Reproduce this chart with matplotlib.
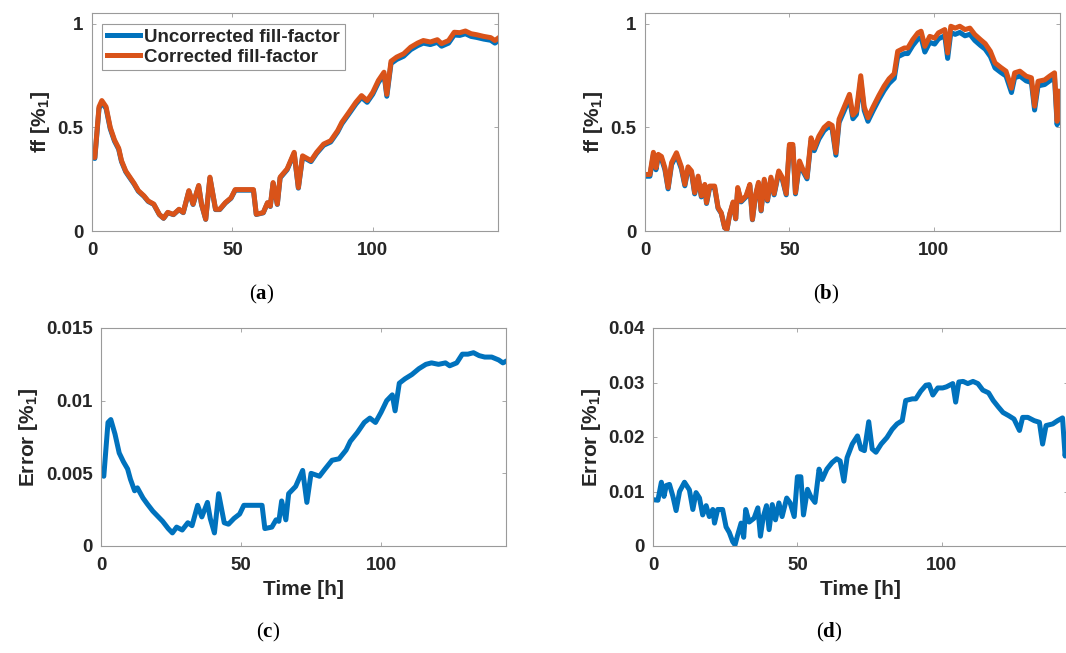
import matplotlib
matplotlib.use("Agg")
import matplotlib.pyplot as plt
import numpy as np

plt.rcParams['font.family'] = ['Liberation Sans', 'DejaVu Sans']
plt.rcParams['mathtext.fontset'] = 'custom'
plt.rcParams['mathtext.rm'] = 'Liberation Serif'
plt.rcParams['mathtext.bf'] = 'Liberation Serif:bold'
plt.rcParams['mathtext.sf'] = 'Liberation Sans:bold'

# ---------------- data: site 1 (panels a, c) ----------------
time_1 = [0, 1, 2.5, 3.5, 5, 6.5, 8, 9.5, 10.5, 12, 13, 15, 16.5, 18.5, 20, 22, 24, 25.5,
          27, 29, 31, 32.5, 34.5, 36, 38, 39, 40.5, 42, 44, 45.5, 47.5, 49.5, 51, 57.5,
          58.5, 61, 62.5, 63.5, 64.5, 66, 67, 69.5, 72, 73.5, 75, 78, 80, 82.5, 85, 87.5,
          89, 91.5, 94, 96, 98, 100, 102, 104, 105, 106.5, 108.5, 111, 113.5, 116, 118,
          120.5, 123, 124.5, 127, 129, 131, 133, 135, 137, 139.5, 142, 143.5, 144.5]
ff_corrected_1 = [0.36, 0.355, 0.60, 0.63, 0.60, 0.50, 0.44, 0.40, 0.34, 0.29, 0.27, 0.23,
                  0.195, 0.17, 0.145, 0.13, 0.08, 0.062, 0.09, 0.08, 0.105, 0.09, 0.195,
                  0.13, 0.22, 0.13, 0.057, 0.26, 0.105, 0.105, 0.137, 0.16, 0.20, 0.20,
                  0.081, 0.089, 0.137, 0.12, 0.234, 0.13, 0.26, 0.30, 0.38, 0.21, 0.363,
                  0.34, 0.38, 0.42, 0.436, 0.485, 0.525, 0.573, 0.622, 0.654, 0.63, 0.67,
                  0.727, 0.767, 0.66, 0.82, 0.84, 0.856, 0.888, 0.908, 0.92, 0.913, 0.924,
                  0.905, 0.92, 0.96, 0.958, 0.966, 0.953, 0.948, 0.94, 0.934, 0.92, 0.93]
error_1 = [0.0049, 0.0048, 0.0085, 0.0087, 0.0077, 0.0064, 0.0058, 0.0053, 0.0046, 0.0038,
           0.0040, 0.0033, 0.0029, 0.0024, 0.0021, 0.0017, 0.0012, 0.0009, 0.0013, 0.0011,
           0.0016, 0.0014, 0.0028, 0.0020, 0.0030, 0.0019, 0.0009, 0.0036, 0.0016, 0.0015,
           0.0019, 0.0022, 0.0028, 0.0028, 0.0012, 0.0013, 0.0018, 0.0017, 0.0031, 0.0018,
           0.0036, 0.0041, 0.0052, 0.0030, 0.0050, 0.0048, 0.0053, 0.0059, 0.0060, 0.0066,
           0.0072, 0.0078, 0.0085, 0.0088, 0.0085, 0.0092, 0.0100, 0.0104, 0.0093, 0.0112,
           0.0115, 0.0118, 0.0122, 0.0125, 0.0126, 0.0125, 0.0126, 0.0124, 0.0126, 0.0132,
           0.0132, 0.0133, 0.0131, 0.0130, 0.0130, 0.0128, 0.0126, 0.0127]

# ---------------- data: site 2 (panels b, d) ----------------
time_2 = [0, 1.7, 2.9, 3.8, 4.6, 5.7, 6.9, 8.0, 9.2, 10.9, 12.6, 13.8, 14.9, 16.1, 17.2,
          18.4, 19.5, 20.7, 21.3, 22.4, 24.1, 25.3, 26.4, 27.6, 28.4, 29.3, 30.5, 31.4,
          32.1, 33.3, 35.0, 36.3, 37.2, 38.2, 39.3, 40.2, 41.3, 42.4, 43.6, 44.7, 46.3,
          47.5, 48.9, 50.0, 51.2, 52.1, 53.5, 54.6, 56.1, 57.5, 58.6, 60.2, 62.0, 63.6,
          64.8, 66.1, 67.2, 69.0, 70.8, 72.0, 73.2, 74.7, 75.9, 77.2, 79.0, 81.0, 82.8,
          84.5, 86.3, 87.5, 89.8, 91.0, 92.7, 94.5, 95.6, 96.9, 98.6, 100.3, 101.6, 103.8,
          104.8, 105.9, 107.4, 109.0, 110.8, 112.5, 114.2, 116.2, 117.8, 119.6, 121.2,
          123.2, 125.0, 126.9, 128.0, 129.8, 132.0, 133.8, 134.9, 136.1, 138.4, 140.1,
          141.8, 142.7, 143.6]
ff_corrected_2 = [0.273, 0.273, 0.38, 0.305, 0.37, 0.36, 0.305, 0.21, 0.33, 0.378, 0.31,
                  0.225, 0.31, 0.29, 0.185, 0.265, 0.17, 0.225, 0.137, 0.217, 0.217, 0.113,
                  0.088, 0.016, 0.008, 0.08, 0.14, 0.06, 0.21, 0.145, 0.17, 0.225, 0.056,
                  0.17, 0.235, 0.10, 0.25, 0.15, 0.26, 0.18, 0.29, 0.26, 0.18, 0.418, 0.418,
                  0.185, 0.338, 0.30, 0.26, 0.45, 0.40, 0.458, 0.50, 0.52, 0.51, 0.378,
                  0.54, 0.60, 0.66, 0.56, 0.58, 0.75, 0.60, 0.547, 0.60, 0.655, 0.70, 0.735,
                  0.76, 0.868, 0.884, 0.884, 0.924, 0.957, 0.965, 0.892, 0.94, 0.932, 0.957,
                  0.973, 0.86, 0.989, 0.98, 0.989, 0.973, 0.98, 0.949, 0.924, 0.905, 0.868,
                  0.812, 0.79, 0.772, 0.69, 0.764, 0.772, 0.748, 0.74, 0.603, 0.723, 0.73,
                  0.748, 0.764, 0.53, 0.675]
error_2 = [0.0085, 0.0084, 0.0117, 0.0091, 0.0111, 0.0113, 0.0091, 0.0065, 0.0100, 0.0117,
           0.0103, 0.0067, 0.0098, 0.0088, 0.0057, 0.0074, 0.0054, 0.0067, 0.0042, 0.0067,
           0.0067, 0.0035, 0.0025, 0.0008, 0.0002, 0.0020, 0.0042, 0.0016, 0.0067, 0.0044,
           0.0051, 0.0070, 0.0018, 0.0054, 0.0074, 0.0030, 0.0076, 0.0048, 0.0079, 0.0054,
           0.0088, 0.0079, 0.0054, 0.0127, 0.0127, 0.0057, 0.0104, 0.0091, 0.0080, 0.0141,
           0.0122, 0.0141, 0.0153, 0.0160, 0.0156, 0.0119, 0.0162, 0.0187, 0.0202, 0.0178,
           0.0175, 0.0228, 0.0178, 0.0172, 0.0187, 0.0199, 0.0214, 0.0224, 0.0230, 0.0267,
           0.0270, 0.0270, 0.0284, 0.0295, 0.0296, 0.0277, 0.0290, 0.0290, 0.0292, 0.0298,
           0.0264, 0.0301, 0.0302, 0.0298, 0.0302, 0.0298, 0.0286, 0.0281, 0.0267, 0.0255,
           0.0245, 0.0239, 0.0233, 0.0212, 0.0236, 0.0236, 0.0230, 0.0227, 0.0187, 0.0221,
           0.0224, 0.0230, 0.0235, 0.0165, 0.0205]

# uncorrected = corrected - error
ff_uncorrected_1 = (np.array(ff_corrected_1) - np.array(error_1)).tolist()
ff_uncorrected_2 = (np.array(ff_corrected_2) - np.array(error_2)).tolist()

x_ticks = [0, 50, 100]
ff_ticks = [0, 0.5, 1]
ff_ticklabels = ['0', '0.5', '1']
err1_ticks = [0, 0.005, 0.01, 0.015]
err1_ticklabels = ['0', '0.005', '0.01', '0.015']
err2_ticks = [0, 0.01, 0.02, 0.03, 0.04]
err2_ticklabels = ['0', '0.01', '0.02', '0.03', '0.04']

BLUE = '#0072BD'
ORANGE = '#D95319'
TXT = '#262626'
SPINE = '#9a9a9a'

W, H = 1066, 653
fig = plt.figure(figsize=(W / 100, H / 100), dpi=100)


def add_axes(l, r, t, b):
    return fig.add_axes([l / W, 1 - b / H, (r - l) / W, (b - t) / H])


def style(ax, xmax, ymax, yticks, ylabels):
    ax.set_xlim(0, xmax)
    ax.set_ylim(0, ymax)
    ax.set_xticks(x_ticks)
    ax.set_xticklabels([str(v) for v in x_ticks])
    ax.set_yticks(yticks)
    ax.set_yticklabels(ylabels)
    ax.tick_params(direction='in', length=3, width=0.6, color=SPINE, top=True,
                   right=True, labelsize=13.5, labelcolor=TXT)
    ax.tick_params(axis='x', pad=8)
    ax.tick_params(axis='y', pad=6)
    for lab in ax.get_xticklabels() + ax.get_yticklabels():
        lab.set_fontweight('bold')
    for s in ax.spines.values():
        s.set_color(SPINE)
        s.set_linewidth(0.8)


LW = 3.6

# (a)
ax_a = add_axes(92, 498, 13, 231)
ax_a.plot(time_1, ff_uncorrected_1, color=BLUE, lw=LW, label='Uncorrected fill-factor',
          solid_joinstyle='round')
ax_a.plot(time_1, ff_corrected_1, color=ORANGE, lw=LW, label='Corrected fill-factor',
          solid_joinstyle='round')
style(ax_a, 144.6, 1.053, ff_ticks, ff_ticklabels)
ax_a.set_ylabel(r'ff [%$_{\mathsf{1}}$]', fontsize=15, fontweight='bold', color=TXT,
                labelpad=4)
leg = ax_a.legend(loc='upper left', bbox_to_anchor=(0.025, 0.95), borderaxespad=0,
                  fancybox=False, edgecolor=SPINE, framealpha=1,
                  prop={'weight': 'bold', 'size': 13.5}, handlelength=1.75,
                  handletextpad=0.25, labelspacing=0.15, borderpad=0.25)
leg.get_frame().set_linewidth(0.8)
for t in leg.get_texts():
    t.set_color(TXT)

# (b)
ax_b = add_axes(645, 1060, 13, 231)
ax_b.plot(time_2, ff_uncorrected_2, color=BLUE, lw=LW, solid_joinstyle='round')
ax_b.plot(time_2, ff_corrected_2, color=ORANGE, lw=LW, solid_joinstyle='round')
style(ax_b, 143.7, 1.053, ff_ticks, ff_ticklabels)
ax_b.set_ylabel(r'ff [%$_{\mathsf{1}}$]', fontsize=15, fontweight='bold', color=TXT,
                labelpad=4)

# (c)
ax_c = add_axes(101, 506, 328, 546)
ax_c.plot(time_1, error_1, color=BLUE, lw=LW, solid_joinstyle='round')
style(ax_c, 144.6, 0.015, err1_ticks, err1_ticklabels)
ax_c.set_ylabel(r'Error [%$_{\mathsf{1}}$]', fontsize=15, fontweight='bold', color=TXT,
                labelpad=4)
ax_c.set_xlabel('Time [h]', fontsize=15, fontweight='bold', color=TXT, labelpad=4)

# (d)
ax_d = add_axes(653, 1068, 328, 546)
ax_d.plot(time_2, error_2, color=BLUE, lw=LW, solid_joinstyle='round')
style(ax_d, 143.7, 0.04, err2_ticks, err2_ticklabels)
ax_d.set_ylabel(r'Error [%$_{\mathsf{1}}$]', fontsize=15, fontweight='bold', color=TXT,
                labelpad=4)
ax_d.set_xlabel('Time [h]', fontsize=15, fontweight='bold', color=TXT, labelpad=4)

# panel letters
for letter, (px, py) in zip(['a', 'b', 'c', 'd'],
                            [(262, 294), (826, 294), (268, 632), (829, 632)]):
    fig.text(px / W, 1 - py / H, r'($\mathbf{' + letter + r'}$)', ha='center',
             va='center', fontsize=15, family='Liberation Serif', color='black')

fig.savefig('out.png', dpi=100, facecolor='white')
